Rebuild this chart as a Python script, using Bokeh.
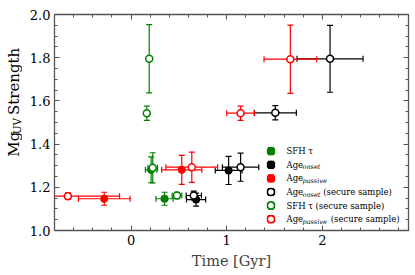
import math
from bokeh.plotting import figure
from bokeh.layouts import row
from bokeh.models import (Range1d, LinearAxis, SingleIntervalTicker, Label,
                          CustomJSTickFormatter, PrintfTickFormatter, ColumnDataSource)
from bokeh.core.properties import value
from bokeh.embed import file_html
from bokeh.resources import INLINE

# ---------------- data ----------------
sfh_x = [0.21, 0.35]
sfh_y = [1.281, 1.147]
sfh_xerr = [0.06, 0.09]
sfh_yerr = [0.06, 0.03]

onset_x = [0.68, 1.02]
onset_y = [1.143, 1.278]
onset_xerr = [0.10, 0.14]
onset_yerr = [0.03, 0.065]

passive_x = [-0.28, 0.53]
passive_y = [1.147, 1.281]
passive_xerr = [0.27, 0.21]
passive_yerr = [0.03, 0.067]

onset_sec_x = [0.656, 1.145, 1.508, 2.08]
onset_sec_y = [1.162, 1.293, 1.545, 1.795]
onset_sec_xerr = [0.08, 0.19, 0.22, 0.345]
onset_sec_yerr = [0.02, 0.065, 0.033, 0.155]

sfh_sec_x = [0.48, 0.227, 0.165, 0.19]
sfh_sec_y = [1.162, 1.29, 1.543, 1.795]
sfh_sec_xerr = [0.05, 0.05, 0.02, 0.01]
sfh_sec_yerr = [0.015, 0.07, 0.033, 0.158]

passive_sec_x = [-0.66, 0.635, 1.145, 1.665]
passive_sec_y = [1.159, 1.293, 1.543, 1.793]
passive_sec_xerr = [0.54, 0.27, 0.145, 0.275]
passive_sec_yerr = [0.015, 0.07, 0.033, 0.158]

x_ticks_interval = 1
y_ticks_interval = 0.2
x_label = "Time [Gyr]"
y_label_parts = ["Mg", "UV", "Strength"]

# ---------------- layout / style ----------------
X0, X1 = -0.8, 2.9
Y0, Y1 = 1.0, 2.0
FW, FH = 354, 216
LABW = 22
GREEN = "#008000"
RED = "#ff0000"
BLACK = "#000000"
AXC = "#555555"
FONT = "DejaVu Serif"

p = figure(frame_width=FW, frame_height=FH,
           x_range=Range1d(X0, X1), y_range=Range1d(Y0, Y1),
           output_backend="svg", toolbar_location=None,
           min_border_left=54 - LABW, min_border_right=7,
           min_border_top=14, min_border_bottom=45)
p.xgrid.visible = False
p.ygrid.visible = False
p.outline_line_color = AXC
p.outline_line_width = 1.3
p.background_fill_color = "white"
p.border_fill_color = "white"

xt = SingleIntervalTicker(interval=x_ticks_interval, num_minor_ticks=5)
yt = SingleIntervalTicker(interval=y_ticks_interval, num_minor_ticks=4)


def style_axis(ax):
    ax.axis_line_color = None
    ax.major_tick_line_color = AXC
    ax.minor_tick_line_color = AXC
    ax.major_tick_in = 5
    ax.major_tick_out = 0
    ax.minor_tick_in = 3
    ax.minor_tick_out = 0
    ax.major_label_standoff = 4
    ax.major_label_text_font = FONT
    ax.major_label_text_font_size = "13px"
    ax.major_label_text_color = "black"


bx = p.below[0]
ly = p.left[0]
bx.ticker = xt
ly.ticker = yt
bx.formatter = PrintfTickFormatter(format="%d")
ly.formatter = PrintfTickFormatter(format="%.1f")
style_axis(bx)
style_axis(ly)
bx.axis_label = x_label
bx.axis_label_text_font = FONT
bx.axis_label_text_font_style = "normal"
bx.axis_label_text_font_size = "14.5px"
bx.axis_label_standoff = 5

for loc, tk in (("above", xt), ("right", yt)):
    ax = LinearAxis(ticker=tk, formatter=CustomJSTickFormatter(code="return ''"))
    style_axis(ax)
    ax.major_label_standoff = 0
    ax.major_label_text_font_size = "0px"
    p.add_layout(ax, loc)


def draw_series(xs, ys, xe, ye, color, filled):
    src = ColumnDataSource(dict(
        x=xs, y=ys,
        xl=[a - e for a, e in zip(xs, xe)], xu=[a + e for a, e in zip(xs, xe)],
        yl=[a - e for a, e in zip(ys, ye)], yu=[a + e for a, e in zip(ys, ye)]))
    p.segment(x0="xl", y0="y", x1="xu", y1="y", source=src, line_color=color, line_width=1.2)
    p.segment(x0="x", y0="yl", x1="x", y1="yu", source=src, line_color=color, line_width=1.2)
    for cx, cy, ang in (("xl", "y", math.pi / 2), ("xu", "y", math.pi / 2),
                        ("x", "yl", 0), ("x", "yu", 0)):
        p.scatter(x=cx, y=cy, source=src, marker="dash", angle=ang, size=6,
                  line_color=color, line_width=1.2)
    p.scatter(x="x", y="y", source=src, size=6.5 if filled else 7,
              fill_color=color if filled else "white",
              line_color=color, line_width=1.5)


series = [
    (sfh_x, sfh_y, sfh_xerr, sfh_yerr, GREEN, True),
    (onset_x, onset_y, onset_xerr, onset_yerr, BLACK, True),
    (passive_x, passive_y, passive_xerr, passive_yerr, RED, True),
    (onset_sec_x, onset_sec_y, onset_sec_xerr, onset_sec_yerr, BLACK, False),
    (sfh_sec_x, sfh_sec_y, sfh_sec_xerr, sfh_sec_yerr, GREEN, False),
    (passive_sec_x, passive_sec_y, passive_sec_xerr, passive_sec_yerr, RED, False),
]
for s in series:
    draw_series(*s)

# ---------------- legend (manual, screen-pixel layout) ----------------
leg_items = [
    ("SFH τ", "", "", GREEN, True),
    ("Age", "onset", "", BLACK, True),
    ("Age", "passive", "", RED, True),
    ("Age", "onset", "(secure sample)", BLACK, False),
    ("SFH τ", "", "(secure sample)", GREEN, False),
    ("Age", "passive", "(secure sample)", RED, False),
]
LEG_MX = 216.5      # marker x, px from frame left
LEG_TX = 232        # text x
LEG_Y0 = 79.3       # first row y, px from frame bottom
LEG_DY = 13.6
SUB_X = 248
SEC_X = {"onset": 268.7, "passive": 276.3, "": 261}
px_x = (X1 - X0) / FW
px_y = (Y1 - Y0) / FH
for i, (main, sub, extra, color, filled) in enumerate(leg_items):
    ry = LEG_Y0 - i * LEG_DY
    dx = X0 + LEG_MX * px_x
    dy = Y0 + ry * px_y
    draw_series([dx], [dy], [3.5 * px_x], [3.5 * px_y], color, filled)
    p.add_layout(Label(x=LEG_TX, y=ry, x_units="screen", y_units="screen", text=main,
                       text_font=FONT, text_font_size="8.5px", text_baseline="middle",
                       text_color="black"))
    if sub:
        p.add_layout(Label(x=SUB_X, y=ry - 2.5, x_units="screen", y_units="screen", text=sub,
                           text_font=FONT, text_font_size="6.5px", text_font_style="italic",
                           text_baseline="middle", text_color="black"))
    if extra:
        p.add_layout(Label(x=SEC_X[sub], y=ry, x_units="screen", y_units="screen", text=extra,
                           text_font=FONT, text_font_size="8.5px", text_baseline="middle",
                           text_color="black"))

# ---------------- y axis label panel: Mg_UV Strength ----------------
H_TOTAL = 14 + FH + 45
lab = figure(width=LABW, height=H_TOTAL, x_range=Range1d(0, LABW), y_range=Range1d(0, H_TOTAL),
             output_backend="svg", toolbar_location=None, x_axis_type=None, y_axis_type=None,
             min_border=0)
lab.outline_line_color = None
lab.xgrid.visible = False
lab.ygrid.visible = False
YL_BOTTOM = 94
lab_src = ColumnDataSource(dict(
    x=[13, 16.5, 13],
    y=[YL_BOTTOM, YL_BOTTOM + 28.5, YL_BOTTOM + 53],
    t=y_label_parts,
    s=["15px", "10.5px", "15px"]))
lab.text(x="x", y="y", text="t", source=lab_src, angle=math.pi / 2,
         text_align="left", text_baseline="middle", text_font=value(FONT),
         text_font_size="s", text_color="black")

layout = row(lab, p, spacing=0)
open("out.html", "w").write(file_html(layout, INLINE))
